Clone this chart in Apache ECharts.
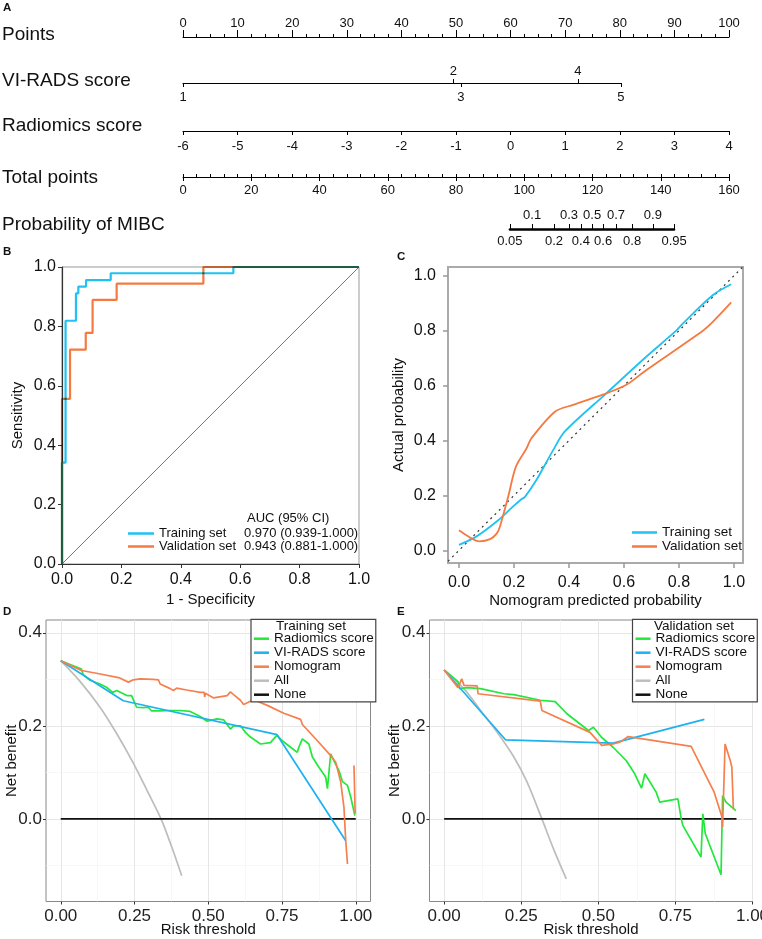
<!DOCTYPE html>
<html><head><meta charset="utf-8">
<script src="https://cdn.jsdelivr.net/npm/echarts@6/dist/echarts.min.js"></script>
<style>html,body{margin:0;padding:0;background:#fff}#c{width:762px;height:939px}</style>
</head><body><div id="c"></div>
<script>
// ================= DATA =================
// Panel A: nomogram
const nomoRowNames = ['Points', 'VI-RADS score', 'Radiomics score', 'Total points', 'Probability of MIBC'];
const pointsRange = [0, 100];
const vradsLabels = ['1', '2', '3', '4', '5'];
const vradsPoints = [0, 49.5, 50.9, 72.3, 80.2];
const radiomicsRange = [-6, 4];
const totalPointsRange = [0, 160];
const probLabels = ['0.05', '0.1', '0.2', '0.3', '0.4', '0.5', '0.6', '0.7', '0.8', '0.9', '0.95'];
const probTotalPoints = [95.8, 102.3, 108.7, 113.1, 116.6, 119.9, 123.1, 126.9, 131.6, 137.7, 143.9];

// Panel B: ROC curves
const rocNames = ['Training set', 'Validation set'];
const rocAuc = ['0.970 (0.939-1.000)', '0.943 (0.881-1.000)'];
const rocTrainFpr = [0, 0, 0.012, 0.047, 0.055, 0.081, 0.164, 0.577, 1];
const rocTrainTpr = [0, 0.341, 0.819, 0.911, 0.934, 0.956, 0.979, 1.0, 1.0];
const rocValFpr = [0, 0, 0.027, 0.08, 0.103, 0.184, 0.476, 1];
const rocValTpr = [0, 0.556, 0.722, 0.778, 0.889, 0.944, 1.0, 1.0];
const rocDiag = [0, 1];

// Panel C: calibration curves
const calXRange = [-0.04, 1.033];
const calYRange = [-0.046, 1.032];
const calTicks = [0, 0.2, 0.4, 0.6, 0.8, 1.0];
const calTrainX = [0, 0.064, 0.137, 0.197, 0.227, 0.24, 0.282, 0.343, 0.385, 0.536, 0.682, 0.79, 0.815, 0.924, 0.99];
const calTrainY = [0.02, 0.051, 0.105, 0.16, 0.186, 0.195, 0.257, 0.366, 0.433, 0.572, 0.706, 0.80, 0.827, 0.93, 0.969];
const calValX = [0, 0.04, 0.074, 0.113, 0.137, 0.149, 0.179, 0.207, 0.246, 0.264, 0.349, 0.415, 0.536, 0.609, 0.682, 0.887, 0.924, 0.99];
const calValY = [0.073, 0.047, 0.033, 0.041, 0.061, 0.087, 0.196, 0.305, 0.372, 0.409, 0.505, 0.53, 0.572, 0.603, 0.657, 0.80, 0.833, 0.903];

// Panels D/E: decision curves
const dcaNames = ['Radiomics score', 'VI-RADS score', 'Nomogram', 'All', 'None'];
const dcaYRange = [-0.1775, 0.4275];
const dcaYMajor = [0, 0.2, 0.4];
const dcaYMinor = [-0.1, 0.1, 0.3];
const dcaXMajor = [0, 0.25, 0.5, 0.75, 1.0];
const dcaXMinor = [0.125, 0.375, 0.625, 0.875];
const dcaTrainXRange = [-0.05, 1.05];
const dcaValXRange = [-0.0475, 1.0];

// D: training set
const dTrainAllT = [0, 0.066, 0.133, 0.19, 0.246, 0.292, 0.34, 0.376, 0.41];
const dTrainAllNB = [0.34, 0.295, 0.24, 0.183, 0.12, 0.062, 0, -0.06, -0.122];
const dTrainNoneT = [0, 1];
const dTrainNoneNB = [0, 0];
const dTrainVrT = [0, 0.212, 0.733, 0.966];
const dTrainVrNB = [0.34, 0.254, 0.181, -0.047];
const dTrainRadT = [0, 0.07, 0.076, 0.099, 0.133, 0.155, 0.176, 0.19, 0.224, 0.24, 0.257, 0.28, 0.297, 0.308, 0.337, 0.371, 0.405, 0.439, 0.473, 0.496, 0.53, 0.552, 0.575, 0.586, 0.609, 0.626, 0.643, 0.677, 0.711, 0.733, 0.751, 0.779, 0.802, 0.807, 0.819, 0.841, 0.853, 0.875, 0.898, 0.904, 0.915, 0.926, 0.943, 0.955, 0.972, 0.983, 0.997];
const dTrainRadNB = [0.34, 0.322, 0.31, 0.298, 0.29, 0.283, 0.272, 0.276, 0.265, 0.265, 0.24, 0.239, 0.24, 0.232, 0.232, 0.233, 0.233, 0.231, 0.22, 0.21, 0.215, 0.213, 0.193, 0.2, 0.2, 0.186, 0.176, 0.161, 0.164, 0.18, 0.168, 0.154, 0.143, 0.154, 0.172, 0.161, 0.133, 0.111, 0.09, 0.065, 0.14, 0.125, 0.104, 0.08, 0.072, 0.047, 0.007];
const dTrainNomoT = [0, 0.07, 0.121, 0.2, 0.229, 0.246, 0.269, 0.314, 0.331, 0.337, 0.371, 0.382, 0.393, 0.427, 0.473, 0.486, 0.488, 0.49, 0.518, 0.564, 0.575, 0.586, 0.609, 0.62, 0.654, 0.70, 0.756, 0.813, 0.819, 0.87, 0.915, 0.932, 0.949, 0.96, 0.966, 0.972, 0.98, 0.994, 0.998];
const dTrainNomoNB = [0.34, 0.319, 0.313, 0.303, 0.294, 0.299, 0.301, 0.30, 0.299, 0.29, 0.28, 0.276, 0.281, 0.277, 0.272, 0.272, 0.262, 0.27, 0.26, 0.265, 0.273, 0.267, 0.255, 0.246, 0.256, 0.244, 0.227, 0.214, 0.203, 0.168, 0.136, 0.122, 0.079, 0.025, -0.047, -0.097, null, 0.115, 0.011];

// E: validation set
const eValAllT = [0, 0.0645, 0.1183, 0.172, 0.226, 0.269, 0.317, 0.355, 0.396];
const eValAllNB = [0.32, 0.2796, 0.233, 0.186, 0.133, 0.079, 0, -0.065, -0.129];
const eValNoneT = [0, 0.948];
const eValNoneNB = [0, 0];
const eValVrT = [0, 0.199, 0.548, 0.844];
const eValVrNB = [0.32, 0.17, 0.163, 0.214];
const eValRadT = [0, 0.045, 0.05, 0.075, 0.118, 0.194, 0.226, 0.312, 0.36, 0.398, 0.468, 0.484, 0.511, 0.548, 0.591, 0.618, 0.64, 0.651, 0.688, 0.699, 0.758, 0.769, 0.774, 0.833, 0.839, 0.847, 0.898, 0.903, 0.914, 0.946];
const eValRadNB = [0.32, 0.295, 0.28, 0.282, 0.28, 0.269, 0.267, 0.255, 0.252, 0.226, 0.19, 0.197, 0.175, 0.154, 0.125, 0.097, 0.066, 0.097, 0.057, 0.036, 0.043, 0.0, -0.014, -0.082, 0.011, -0.032, -0.12, 0.05, 0.036, 0.018];
const eValNomoT = [0, 0.045, 0.057, 0.0645, 0.107, 0.11, 0.312, 0.317, 0.473, 0.511, 0.548, 0.57, 0.597, 0.801, 0.876, 0.901, 0.903, 0.911, 0.928, 0.933, 0.938];
const eValNomoNB = [0.32, 0.282, 0.301, 0.287, 0.286, 0.269, 0.253, 0.233, 0.186, 0.158, 0.161, 0.165, 0.177, 0.156, 0.057, 0.004, -0.018, 0.161, 0.125, 0.111, 0.021];

// ================= STYLE / LAYOUT =================
const FONT = "'Liberation Sans', Arial, sans-serif";
const C_CYAN = '#1FC2F2', C_ORANGE = '#F47A42';
const D_GREEN = '#22E83C', D_BLUE = '#1CB2F0', D_ORANGE = '#F5804E', D_GRAY = '#BDBDBD', D_BLACK = '#111';
const NOMO_LEFT = 183, NOMO_W = 546;

function nearestLabel(vals, labels, v) {
  let bi = 0, bd = Infinity;
  vals.forEach((x, i) => { const d = Math.abs(x - v); if (d < bd) { bd = d; bi = i; } });
  return labels[bi];
}
function pairs(xs, ys) { return xs.map((x, i) => [x, ys[i] === null ? '-' : ys[i]]); }

const grids = [], xAxes = [], yAxes = [], series = [], legends = [], graphics = [];
const black = { color: '#000', width: 1 };

function nomoAxis(o) {
  return Object.assign({
    type: 'value', splitLine: { show: false }, minorSplitLine: { show: false },
    axisLine: { show: true, onZero: false, lineStyle: black },
    axisTick: { show: true, length: 4, lineStyle: black },
    axisLabel: { show: true, fontSize: 13, color: '#111', fontFamily: FONT, margin: 7 },
    nameMoveOverlap: false
  }, o);
}
function hiddenY(gi) { return { gridIndex: gi, type: 'value', show: false, min: 0, max: 1 }; }

// --- grid 0: Points
grids.push({ left: NOMO_LEFT, top: 37, width: NOMO_W, height: 0, outerBoundsMode: 'none' });
yAxes.push(hiddenY(0));
xAxes.push(nomoAxis({ gridIndex: 0, position: 'top', min: pointsRange[0], max: pointsRange[1], interval: 10,
  axisTick: { show: true, length: 7, lineStyle: black },
  minorTick: { show: true, splitNumber: 4, length: 3, lineStyle: black },
  axisLabel: { fontSize: 13, color: '#111', fontFamily: FONT, margin: 7 } }));

// --- grid 1: VI-RADS
const vrUp = vradsPoints.filter((_, i) => i % 2 === 1);
const vrDown = vradsPoints.filter((_, i) => i % 2 === 0);
grids.push({ left: NOMO_LEFT, top: 83, width: NOMO_W * vradsPoints[vradsPoints.length - 1] / pointsRange[1], height: 0, outerBoundsMode: 'none' });
yAxes.push(hiddenY(1));
const vrFmt = v => nearestLabel(vradsPoints, vradsLabels, v);
xAxes.push(nomoAxis({ gridIndex: 1, position: 'top', min: 0, max: vradsPoints[vradsPoints.length - 1],
  axisLine: { show: true, onZero: false, lineStyle: { color: '#000', width: 1.2 } },
  axisTick: { show: true, length: 4, lineStyle: black, customValues: vrUp },
  axisLabel: { fontSize: 13, color: '#111', fontFamily: FONT, margin: 5, customValues: vrUp, formatter: vrFmt } }));
xAxes.push(nomoAxis({ gridIndex: 1, position: 'bottom', min: 0, max: vradsPoints[vradsPoints.length - 1],
  axisLine: { show: false },
  axisTick: { show: true, length: 4, lineStyle: black, customValues: vrDown },
  axisLabel: { fontSize: 13, color: '#111', fontFamily: FONT, margin: 8, customValues: vrDown, formatter: vrFmt } }));

// --- grid 2: Radiomics score
grids.push({ left: NOMO_LEFT, top: 131, width: NOMO_W, height: 0, outerBoundsMode: 'none' });
yAxes.push(hiddenY(2));
xAxes.push(nomoAxis({ gridIndex: 2, position: 'bottom', min: radiomicsRange[0], max: radiomicsRange[1], interval: 1,
  axisLabel: { fontSize: 13, color: '#111', fontFamily: FONT, margin: 9 } }));

// --- grid 3: Total points
grids.push({ left: NOMO_LEFT, top: 177, width: NOMO_W, height: 0, outerBoundsMode: 'none' });
yAxes.push(hiddenY(3));
xAxes.push(nomoAxis({ gridIndex: 3, position: 'bottom', min: totalPointsRange[0], max: totalPointsRange[1], interval: 20,
  axisTick: { show: true, length: 4, lineStyle: black },
  axisLabel: { fontSize: 13, color: '#111', fontFamily: FONT, margin: 7 } }));
xAxes.push(nomoAxis({ gridIndex: 3, position: 'top', min: totalPointsRange[0], max: totalPointsRange[1], interval: 4,
  axisLine: { show: false }, axisTick: { show: true, length: 3, lineStyle: black }, axisLabel: { show: false } }));

// --- grid 4: Probability
const pFirst = probTotalPoints[0], pLast = probTotalPoints[probTotalPoints.length - 1];
const pUp = probTotalPoints.filter((_, i) => i % 2 === 1);
const pDown = probTotalPoints.filter((_, i) => i % 2 === 0);
const pFmt = v => nearestLabel(probTotalPoints, probLabels, v);
grids.push({ left: NOMO_LEFT + NOMO_W * pFirst / totalPointsRange[1], top: 229,
  width: NOMO_W * (pLast - pFirst) / totalPointsRange[1], height: 0, outerBoundsMode: 'none' });
yAxes.push(hiddenY(4));
xAxes.push(nomoAxis({ gridIndex: 4, position: 'top', min: pFirst, max: pLast,
  axisLine: { show: true, onZero: false, lineStyle: { color: '#000', width: 2.5 } },
  axisTick: { show: true, length: 5, lineStyle: black, customValues: probTotalPoints },
  axisLabel: { fontSize: 13, color: '#111', fontFamily: FONT, margin: 7, customValues: pUp, formatter: pFmt } }));
xAxes.push(nomoAxis({ gridIndex: 4, position: 'bottom', min: pFirst, max: pLast,
  axisLine: { show: false }, axisTick: { show: false },
  axisLabel: { fontSize: 13, color: '#111', fontFamily: FONT, margin: 6, customValues: pDown, formatter: pFmt } }));

// --- grid 5: Panel B ROC
grids.push({ left: 62, top: 267, width: 297, height: 297, show: true, borderColor: '#999', borderWidth: 1, outerBoundsMode: 'none' });
const bAxisLine = { show: true, onZero: false, lineStyle: { color: '#333', width: 1.2 } };
xAxes.push({ gridIndex: 5, type: 'value', min: 0, max: 1, interval: 0.2, axisLine: bAxisLine,
  axisTick: { show: true, length: 4, lineStyle: { color: '#333' } },
  axisLabel: { fontSize: 16, color: '#111', fontFamily: FONT, margin: 8, formatter: v => v.toFixed(1) },
  splitLine: { show: false }, name: '1 - Specificity', nameLocation: 'middle', nameGap: 28, nameMoveOverlap: false,
  nameTextStyle: { fontSize: 15, color: '#111', fontFamily: FONT } });
yAxes.push({ gridIndex: 5, type: 'value', min: 0, max: 1, interval: 0.2, axisLine: bAxisLine,
  axisTick: { show: true, length: 4, lineStyle: { color: '#333' } },
  axisLabel: { fontSize: 16, color: '#111', fontFamily: FONT, margin: 6, formatter: v => v.toFixed(1) },
  splitLine: { show: false }, name: 'Sensitivity', nameLocation: 'middle', nameGap: 37, nameMoveOverlap: false,
  nameTextStyle: { fontSize: 15, color: '#111', fontFamily: FONT } });

// --- grid 6: Panel C calibration
grids.push({ left: 448, top: 267, width: 295, height: 296, show: true, borderColor: '#aaa', borderWidth: 2, outerBoundsMode: 'none' });
const cAxisLine = { show: true, onZero: false, lineStyle: { color: '#aaa', width: 2 } };
xAxes.push({ gridIndex: 6, type: 'value', min: calXRange[0], max: calXRange[1], axisLine: cAxisLine,
  axisTick: { show: true, length: 5, lineStyle: { color: '#999', width: 1.5 }, customValues: calTicks },
  axisLabel: { fontSize: 16, color: '#111', fontFamily: FONT, margin: 12, customValues: calTicks, formatter: v => v.toFixed(1) },
  splitLine: { show: false }, name: 'Nomogram predicted probability', nameLocation: 'middle', nameGap: 30, nameMoveOverlap: false,
  nameTextStyle: { fontSize: 15, color: '#111', fontFamily: FONT } });
yAxes.push({ gridIndex: 6, type: 'value', min: calYRange[0], max: calYRange[1], axisLine: cAxisLine,
  axisTick: { show: true, length: 5, lineStyle: { color: '#999', width: 1.5 }, customValues: calTicks },
  axisLabel: { fontSize: 16, color: '#111', fontFamily: FONT, margin: 12, customValues: calTicks, formatter: v => v.toFixed(1) },
  splitLine: { show: false }, name: 'Actual probability', nameLocation: 'middle', nameGap: 42, nameMoveOverlap: false,
  nameTextStyle: { fontSize: 15, color: '#111', fontFamily: FONT } });

// --- grids 7/8: Panels D/E decision curves
function dcaPanel(gi, left, width, xRange) {
  grids.push({ left, top: 620, width, height: 281.5, show: true, backgroundColor: '#fff', borderColor: '#888', borderWidth: 1, outerBoundsMode: 'none' });
  const tick = { show: true, length: 3, lineStyle: { color: '#333', width: 1 } };
  xAxes.push({ gridIndex: gi, type: 'value', position: 'bottom', min: xRange[0], max: xRange[1],
    axisLine: { show: false, onZero: false },
    axisTick: Object.assign({ customValues: dcaXMajor }, tick),
    axisLabel: { fontSize: 17, color: '#222', fontFamily: FONT, margin: 6, customValues: dcaXMajor, formatter: v => v.toFixed(2) },
    splitLine: { show: true, lineStyle: { color: '#E6E6E6', width: 1 } },
    name: 'Risk threshold', nameLocation: 'middle', nameGap: 21, nameMoveOverlap: false,
    nameTextStyle: { fontSize: 15, color: '#111', fontFamily: FONT } });
  xAxes.push({ gridIndex: gi, type: 'value', position: 'top', min: xRange[0], max: xRange[1],
    axisLine: { show: false, onZero: false }, axisTick: { show: false, customValues: dcaXMinor },
    axisLabel: { show: false, customValues: dcaXMinor },
    splitLine: { show: true, lineStyle: { color: '#F3F3F3', width: 0.7 } } });
  yAxes.push({ gridIndex: gi, type: 'value', position: 'left', min: dcaYRange[0], max: dcaYRange[1],
    axisLine: { show: false, onZero: false },
    axisTick: Object.assign({ customValues: dcaYMajor }, tick),
    axisLabel: { fontSize: 17, color: '#222', fontFamily: FONT, margin: 4, customValues: dcaYMajor, formatter: v => v.toFixed(1) },
    splitLine: { show: true, lineStyle: { color: '#E6E6E6', width: 1 } },
    name: 'Net benefit', nameLocation: 'middle', nameGap: 27, nameMoveOverlap: false,
    nameTextStyle: { fontSize: 15, color: '#111', fontFamily: FONT } });
  yAxes.push({ gridIndex: gi, type: 'value', position: 'right', min: dcaYRange[0], max: dcaYRange[1],
    axisLine: { show: false, onZero: false }, axisTick: { show: false, customValues: dcaYMinor },
    axisLabel: { show: false, customValues: dcaYMinor },
    splitLine: { show: true, lineStyle: { color: '#F3F3F3', width: 0.7 } } });
}
dcaPanel(7, 46, 324.5, dcaTrainXRange);   // xAxis 10/11, yAxis 7/8
dcaPanel(8, 429.5, 323, dcaValXRange);    // xAxis 12/13, yAxis 9/10

// ================= SERIES =================
function line(name, xs, ys, xi, yi, color, width, extra) {
  return Object.assign({
    type: 'line', name, xAxisIndex: xi, yAxisIndex: yi, data: pairs(xs, ys),
    showSymbol: false, symbol: 'none', connectNulls: false,
    lineStyle: { color, width }, itemStyle: { color }, emphasis: { disabled: true }, silent: true, z: 3
  }, extra || {});
}
// B
series.push(line('diagB', rocDiag, rocDiag, 8, 5, '#555', 0.8, { z: 2 }));
series.push(line(rocNames[0], rocTrainFpr, rocTrainTpr, 8, 5, C_CYAN, 2.2, { step: 'end' }));
series.push(line(rocNames[1], rocValFpr, rocValTpr, 8, 5, C_ORANGE, 2.2, { step: 'end', blendMode: 'multiply', z: 4 }));
// C
series.push(line('diagC', calXRange, calXRange, 9, 6, '#333', 1.2, { lineStyle: { color: '#333', width: 1.2, type: [2, 4] }, z: 2 }));
series.push(line(rocNames[0], calTrainX, calTrainY, 9, 6, C_CYAN, 1.8, { smooth: 0.3 }));
series.push(line(rocNames[1], calValX, calValY, 9, 6, C_ORANGE, 1.8, { smooth: 0.3 }));
// D
series.push(line('All', dTrainAllT, dTrainAllNB, 10, 7, D_GRAY, 1.7, { smooth: 0.3 }));
series.push(line('None', dTrainNoneT, dTrainNoneNB, 10, 7, D_BLACK, 1.7));
series.push(line('Radiomics score', dTrainRadT, dTrainRadNB, 10, 7, D_GREEN, 1.7));
series.push(line('VI-RADS score', dTrainVrT, dTrainVrNB, 10, 7, D_BLUE, 1.7));
series.push(line('Nomogram', dTrainNomoT, dTrainNomoNB, 10, 7, D_ORANGE, 1.7));
// E
series.push(line('All', eValAllT, eValAllNB, 12, 9, D_GRAY, 1.7, { smooth: 0.3 }));
series.push(line('None', eValNoneT, eValNoneNB, 12, 9, D_BLACK, 1.7));
series.push(line('Radiomics score', eValRadT, eValRadNB, 12, 9, D_GREEN, 1.7));
series.push(line('VI-RADS score', eValVrT, eValVrNB, 12, 9, D_BLUE, 1.7));
series.push(line('Nomogram', eValNomoT, eValNomoNB, 12, 9, D_ORANGE, 1.7));

// ================= LEGENDS =================
legends.push({ data: rocNames, left: 128, top: 527, orient: 'vertical', itemGap: 0, itemWidth: 26, itemHeight: 2.5,
  icon: 'rect', selectedMode: false, padding: 0,
  formatter: name => '{n|' + name + '}{v|' + rocAuc[rocNames.indexOf(name)] + '}',
  textStyle: { fontSize: 13, fontFamily: FONT, color: '#111', lineHeight: 12.7,
    rich: { n: { width: 85, fontSize: 13, fontFamily: FONT, color: '#111', lineHeight: 12.7 },
            v: { fontSize: 13, fontFamily: FONT, color: '#111', lineHeight: 12.7 } } } });
legends.push({ data: rocNames, left: 632, top: 525.5, orient: 'vertical', itemGap: 0, itemWidth: 25, itemHeight: 2.5,
  icon: 'rect', selectedMode: false, padding: 0,
  textStyle: { fontSize: 13.5, fontFamily: FONT, color: '#111', lineHeight: 13.7 } });
function dcaLegend(left) {
  return { data: dcaNames, left, top: 619.3, orient: 'vertical', itemGap: 0, itemWidth: 15, itemHeight: 2.5,
    icon: 'rect', selectedMode: false, padding: [12.4, 2, 0.2, 3], backgroundColor: '#fff',
    borderColor: '#444', borderWidth: 1.2,
    textStyle: { fontSize: 13.5, fontFamily: FONT, color: '#111', lineHeight: 13.3, width: 93 } };
}
legends.push(dcaLegend(251));
legends.push(dcaLegend(632.5));

// ================= TEXT =================
function txt(text, x, y, size, weight, align) {
  return { type: 'text', x, y, silent: true, z: 100,
    style: { text, fill: '#111', fontSize: size, fontFamily: FONT, fontWeight: weight || 'normal',
      align: align || 'left', verticalAlign: 'middle', textAlign: align || 'left', textVerticalAlign: 'middle' } };
}
const rowY = [35, 81, 126, 178, 225];
nomoRowNames.forEach((n, i) => graphics.push(txt(n, 2, rowY[i], 19)));
[['A', 3, 8], ['B', 3, 252], ['C', 397, 257], ['D', 3, 612], ['E', 397, 612]].forEach(p => graphics.push(txt(p[0], p[1], p[2], 11.5, 'bold')));
graphics.push(txt('AUC (95% CI)', 247, 518, 13));
graphics.push(txt('Training set', 311, 626.5, 13.5, 'normal', 'center'));
graphics.push(txt('Validation set', 694, 626.5, 13.5, 'normal', 'center'));

const chart = echarts.init(document.getElementById('c'), null, { renderer: 'canvas', width: 762, height: 939 });
chart.setOption({
  animation: false, backgroundColor: '#fff', textStyle: { fontFamily: FONT },
  grid: grids, xAxis: xAxes, yAxis: yAxes, series, legend: legends, graphic: { elements: graphics }
});
</script></body></html>
